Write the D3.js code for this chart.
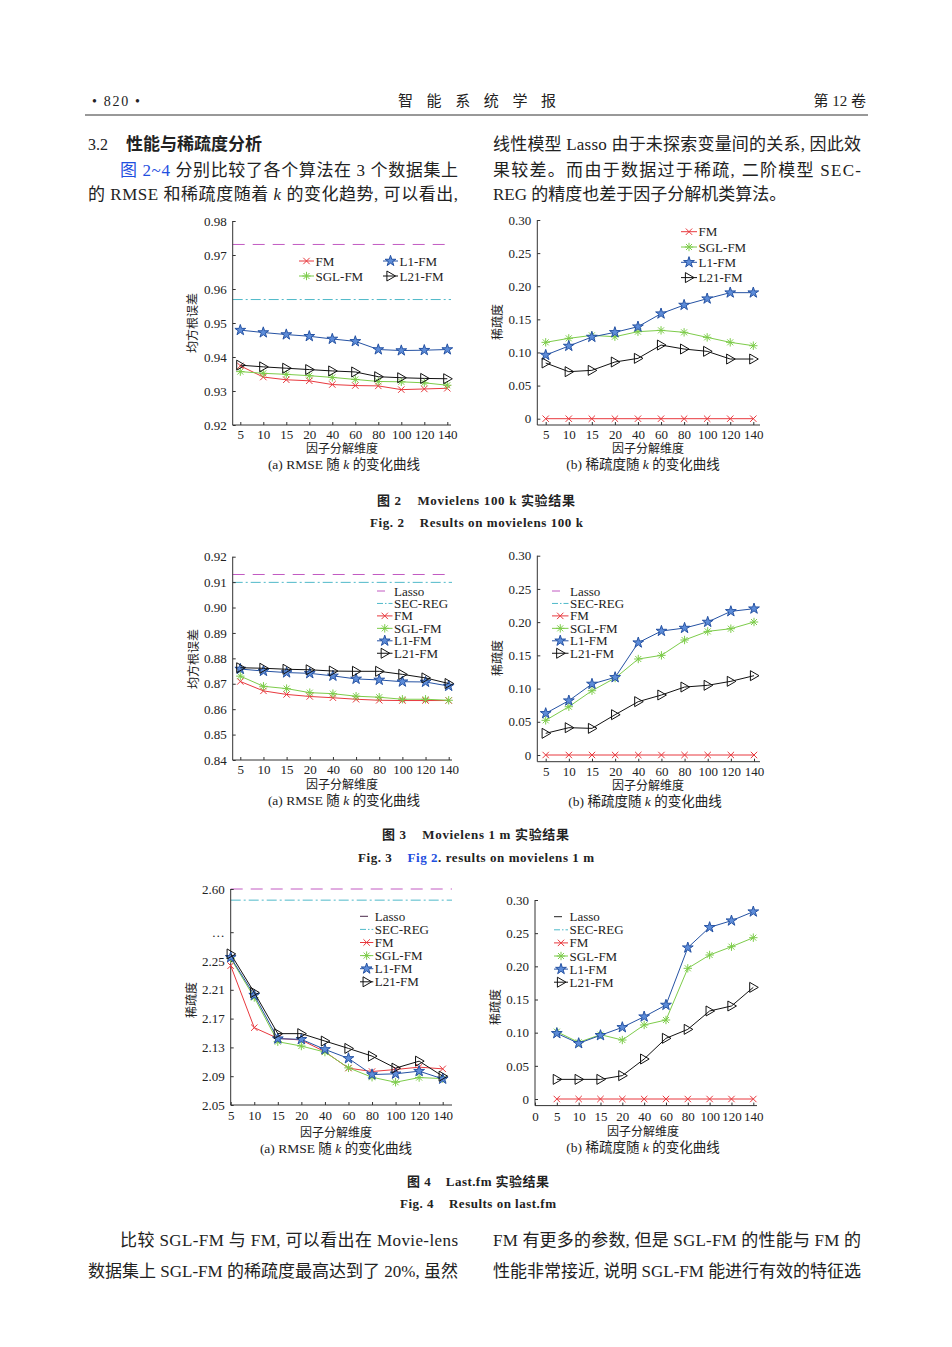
<!DOCTYPE html>
<html>
<head>
<meta charset="utf-8">
<script src="https://cdn.jsdelivr.net/npm/d3@7"></script>
<style>
  html, body { margin: 0; padding: 0; background: #fff; }
  svg { display: block; }
  text { font-family: 'Liberation Serif', 'Times New Roman', 'Noto Sans CJK SC', serif; fill: #222; }
</style>
</head>
<body>
<svg id="svg" width="952" height="1347"></svg>
<script>
// ---- data ----
const kLabels = ['5', '10', '15', '20', '40', '60', '80', '100', '120', '140'];
const kLabelsZero = ['0', '5', '10', '15', '20', '40', '60', '80', '100', '120', '140'];

// Fig 2 Movielens 100 k
const ml100kRmseFM = [0.9374, 0.9341, 0.9333, 0.9330, 0.9319, 0.9316, 0.9315, 0.9304, 0.9306, 0.9308];
const ml100kRmseSGL = [0.9357, 0.9352, 0.9349, 0.9345, 0.9340, 0.9334, 0.9328, 0.9327, 0.9324, 0.9317];
const ml100kRmseL1 = [0.9479, 0.9472, 0.9466, 0.9461, 0.9453, 0.9446, 0.9422, 0.9419, 0.9420, 0.9422];
const ml100kRmseL21 = [0.9376, 0.9371, 0.9367, 0.9363, 0.9359, 0.9356, 0.9342, 0.9339, 0.9337, 0.9336];
const ml100kRmseLasso = 0.9731;
const ml100kRmseSecReg = 0.9569;
const ml100kSpFM = [0, 0, 0, 0, 0, 0, 0, 0, 0, 0];
const ml100kSpSGL = [0.1153, 0.1213, 0.1258, 0.1238, 0.1314, 0.1334, 0.1304, 0.1228, 0.1153, 0.1102];
const ml100kSpL1 = [0.0961, 0.1097, 0.1233, 0.1304, 0.1389, 0.1586, 0.1716, 0.1812, 0.1903, 0.1903];
const ml100kSpL21 = [0.0841, 0.0710, 0.0730, 0.0856, 0.0911, 0.1112, 0.1052, 0.1017, 0.0901, 0.0901];

// Fig 3 Movielens 1 m
const ml1mRmseFM = [0.8709, 0.8672, 0.8658, 0.8650, 0.8645, 0.8639, 0.8635, 0.8634, 0.8634, 0.8634];
const ml1mRmseSGL = [0.8730, 0.8690, 0.8681, 0.8665, 0.8661, 0.8651, 0.8647, 0.8639, 0.8639, 0.8635];
const ml1mRmseL1 = [0.8758, 0.8750, 0.8744, 0.8741, 0.8731, 0.8719, 0.8715, 0.8708, 0.8707, 0.8691];
const ml1mRmseL21 = [0.8763, 0.8761, 0.8757, 0.8755, 0.8750, 0.8749, 0.8749, 0.8737, 0.8723, 0.8701];
const ml1mRmseLasso = 0.9130;
const ml1mRmseSecReg = 0.9099;
const ml1mSpFM = [0, 0, 0, 0, 0, 0, 0, 0, 0, 0];
const ml1mSpSGL = [0.0522, 0.0727, 0.0968, 0.1159, 0.1445, 0.1500, 0.1731, 0.1861, 0.1901, 0.2002];
const ml1mSpL1 = [0.0627, 0.0818, 0.1069, 0.1169, 0.1691, 0.1866, 0.1911, 0.2002, 0.2162, 0.2202];
const ml1mSpL21 = [0.0326, 0.0411, 0.0401, 0.0607, 0.0803, 0.0903, 0.1023, 0.1049, 0.1109, 0.1194];

// Fig 4 Last.fm
const lastfmRmseFM = [2.2435, 2.1574, 2.1426, 2.1402, 2.1240, 2.1012, 2.0965, 2.0993, 2.1026, 2.1002];
const lastfmRmseSGL = [2.2537, 2.1993, 2.1379, 2.1319, 2.1235, 2.1016, 2.0886, 2.0816, 2.0881, 2.0867];
const lastfmRmseL1 = [2.2551, 2.2026, 2.1421, 2.1412, 2.1272, 2.1147, 2.0923, 2.0933, 2.0970, 2.0863];
const lastfmRmseL21 = [2.2598, 2.2063, 2.1491, 2.1491, 2.1388, 2.1286, 2.1179, 2.1012, 2.1109, 2.0900];
const lastfmRmseLasso = 2.60;
const lastfmRmseSecReg = 2.52;
const lastfmSpFM = [0, 0, 0, 0, 0, 0, 0, 0, 0, 0];
const lastfmSpSGL = [0.1015, 0.0854, 0.0970, 0.0889, 0.1116, 0.1191, 0.1970, 0.2171, 0.2296, 0.2432];
const lastfmSpL1 = [0.0990, 0.0839, 0.0960, 0.1080, 0.1241, 0.1417, 0.2281, 0.2588, 0.2688, 0.2824];
const lastfmSpL21 = [0.0296, 0.0296, 0.0296, 0.0352, 0.0603, 0.0915, 0.1050, 0.1327, 0.1402, 0.1683];

// tick values
const rmse100kTicks = [0.92, 0.93, 0.94, 0.95, 0.96, 0.97, 0.98];
const rmse1mTicks = [0.84, 0.85, 0.86, 0.87, 0.88, 0.89, 0.90, 0.91, 0.92];
const rmseLastfmTicks = [2.05, 2.09, 2.13, 2.17, 2.21, 2.25, 2.29, 2.60];
const sparsityTicks = [0, 0.05, 0.10, 0.15, 0.20, 0.25, 0.30];

// ---- styles ----
const C = {
    FM: '#e8393e', SGL: '#7dcc4a', L1: '#2552a3', L1fill: '#5d8cd8', L21: '#111',
    lasso: '#c25ac2', secreg: '#4fb9c9', blue: '#1f4fe0'
};
const FONT_CJK_BOLD = "'Liberation Serif', 'Noto Sans CJK SC', sans-serif";

let svg = d3.select('#svg');
svg.append('rect').attr('width', 952).attr('height', 1347).attr('fill', '#fff');

function markerPath(type) {
    if (type === 'x') return 'M-3.2,-3.2L3.2,3.2M-3.2,3.2L3.2,-3.2';
    if (type === 'ast') return 'M-4.2,0L4.2,0M0,-4.2L0,4.2M-3,-3L3,3M-3,3L3,-3';
    if (type === 'star') return d3.symbol(d3.symbolStar, 36)();
    if (type === 'tri') return 'M-3.6,-5L5,0L-3.6,5Z';
    return '';
}

function drawMarker(g, type, color, cx, cy) {
    let p = g.append('path').attr('d', markerPath(type))
        .attr('transform', `translate(${cx},${cy})`)
        .attr('stroke', color).attr('stroke-width', 1);
    if (type === 'star') p.attr('fill', C.L1fill).attr('stroke-width', 1);
    else p.attr('fill', 'none');
}

const styles = {
    'FM': { color: C.FM, marker: 'x' },
    'SGL-FM': { color: C.SGL, marker: 'ast' },
    'L1-FM': { color: C.L1, marker: 'star' },
    'L21-FM': { color: C.L21, marker: 'tri' },
};

function drawPanel(p) {
    let g = svg.append('g');
    let x = d3.scaleLinear().domain(p.xDomain).range(p.xRange);
    let y = d3.scaleLinear().domain(p.yDomain).range(p.yRange);

    (p.hlines || []).forEach(h => {
        g.append('line')
            .attr('x1', p.axisX).attr('x2', p.axisRight)
            .attr('y1', y(h.value)).attr('y2', y(h.value))
            .attr('stroke', h.color).attr('stroke-width', 1)
            .attr('stroke-dasharray', h.dash);
    });

    // axes
    let yAxis = d3.axisLeft(y).tickValues(p.yTicks).tickFormat(p.yFormat)
        .tickSizeInner(-3).tickSizeOuter(0).tickPadding(6);
    let ya = g.append('g').attr('transform', `translate(${p.axisX},0)`).call(yAxis);
    let xIdx = d3.range(p.xDomain[0] === -1 ? -1 : 0, 10);
    let xAxis = d3.axisBottom(x).tickValues(xIdx)
        .tickFormat(i => p.xLabels[i - xIdx[0]])
        .tickSizeInner(-3).tickSizeOuter(0).tickPadding(p.xPad || 5);
    let xa = g.append('g').attr('transform', `translate(0,${p.yBottom})`).call(xAxis);
    [ya, xa].forEach(a => {
        a.select('.domain').remove();
        a.selectAll('line').attr('stroke', '#333');
        a.selectAll('text').attr('font-size', 13).attr('fill', '#222')
            .style('font-family', "'Liberation Serif', serif");
    });
    g.append('path')
        .attr('d', `M${p.axisX},${p.yTop}V${p.yBottom}H${p.axisRight}`)
        .attr('fill', 'none').attr('stroke', '#333').attr('stroke-width', 1);

    // series
    let line = d3.line().x((d, i) => x(i)).y(d => y(d));
    p.series.forEach(s => {
        let st = styles[s.name];
        g.append('path').datum(s.values).attr('d', line)
            .attr('fill', 'none').attr('stroke', st.color).attr('stroke-width', 1);
        s.values.forEach((v, i) => drawMarker(g, st.marker, st.color, x(i), y(v)));
    });

    // legend
    let lg = p.legend;
    lg.items.forEach((name, i) => {
        let col = i % lg.cols, row = Math.floor(i / lg.cols);
        let lx = lg.x[col], ly = lg.y + row * lg.dy;
        if (name === 'Lasso') {
            g.append('line').attr('x1', lx).attr('x2', lx + 8).attr('y1', ly).attr('y2', ly)
                .attr('stroke', lg.lassoColor || C.lasso);
        } else if (name === 'SEC-REG') {
            g.append('line').attr('x1', lx).attr('x2', lx + lg.len).attr('y1', ly).attr('y2', ly)
                .attr('stroke', C.secreg).attr('stroke-dasharray', '6,2,1.5,2');
        } else {
            let st = styles[name];
            g.append('line').attr('x1', lx).attr('x2', lx + lg.len).attr('y1', ly).attr('y2', ly)
                .attr('stroke', st.color);
            drawMarker(g, st.marker, st.color, lx + lg.len / 2, ly);
        }
        g.append('text').attr('x', lx + lg.len + 1.5).attr('y', ly)
            .attr('dominant-baseline', 'central').attr('font-size', 13).text(name);
    });

    // labels
    g.append('text').attr('transform', `translate(${p.ylab[0]},${p.ylab[1]}) rotate(-90)`)
        .attr('text-anchor', 'middle').attr('dominant-baseline', 'central')
        .attr('font-size', 12).text(p.ylabText);
    g.append('text').attr('x', p.xlab[0]).attr('y', p.xlab[1])
        .attr('text-anchor', 'middle').attr('dominant-baseline', 'central')
        .attr('font-size', 12).text('因子分解维度');
    let cap = g.append('text').attr('x', p.cap[0]).attr('y', p.cap[1])
        .attr('text-anchor', 'middle').attr('dominant-baseline', 'central').attr('font-size', 13.5);
    cap.append('tspan').text(p.capText[0]);
    cap.append('tspan').attr('font-style', 'italic').text('k');
    cap.append('tspan').text(p.capText[1]);
}

const fmtRmse = d => d.toFixed(2);
const fmtSp = d => d === 0 ? '0' : d.toFixed(2);
const fmtLastfm = d => d === 2.29 ? '…' : d.toFixed(2);
const capA = ['(a) RMSE 随 ', ' 的变化曲线'];
const capB = ['(b) 稀疏度随 ', ' 的变化曲线'];
const legend6 = ['Lasso', 'SEC-REG', 'FM', 'SGL-FM', 'L1-FM', 'L21-FM'];

// Fig 2 (a)
drawPanel({
    axisX: 232.7, axisRight: 451, yTop: 221, yBottom: 425,
    xDomain: [0, 9], xRange: [240.3, 447.3], xLabels: kLabels,
    yDomain: [0.92, 0.98], yRange: [425, 221], yTicks: rmse100kTicks, yFormat: fmtRmse,
    hlines: [{ value: ml100kRmseLasso, color: C.lasso, dash: '12,8' },
             { value: ml100kRmseSecReg, color: C.secreg, dash: '10,3,2,3' }],
    series: [{ name: 'FM', values: ml100kRmseFM }, { name: 'SGL-FM', values: ml100kRmseSGL },
             { name: 'L1-FM', values: ml100kRmseL1 }, { name: 'L21-FM', values: ml100kRmseL21 }],
    legend: { items: ['FM', 'L1-FM', 'SGL-FM', 'L21-FM'], cols: 2, x: [299, 383], y: 261, dy: 15, len: 15 },
    ylab: [193, 323], ylabText: '均方根误差', xlab: [342, 448.5], cap: [344, 463.5], capText: capA
});
// Fig 2 (b)
drawPanel({
    axisX: 537.3, axisRight: 760, yTop: 220, yBottom: 425,
    xDomain: [0, 9], xRange: [545.7, 753.3], xLabels: kLabels,
    yDomain: [0, 0.3], yRange: [418.7, 220], yTicks: sparsityTicks, yFormat: fmtSp,
    series: [{ name: 'FM', values: ml100kSpFM }, { name: 'SGL-FM', values: ml100kSpSGL },
             { name: 'L1-FM', values: ml100kSpL1 }, { name: 'L21-FM', values: ml100kSpL21 }],
    legend: { items: ['FM', 'SGL-FM', 'L1-FM', 'L21-FM'], cols: 1, x: [681], y: 231.7, dy: 15.3, len: 16 },
    ylab: [498, 322], ylabText: '稀疏度', xlab: [648, 448.5], cap: [643, 463.5], capText: capB
});
// Fig 3 (a)
drawPanel({
    axisX: 232.7, axisRight: 452, yTop: 556.7, yBottom: 760,
    xDomain: [0, 9], xRange: [240.3, 448.7], xLabels: kLabels,
    yDomain: [0.84, 0.92], yRange: [760, 556.7], yTicks: rmse1mTicks, yFormat: fmtRmse,
    hlines: [{ value: ml1mRmseLasso, color: C.lasso, dash: '12,8' },
             { value: ml1mRmseSecReg, color: C.secreg, dash: '10,3,2,3' }],
    series: [{ name: 'FM', values: ml1mRmseFM }, { name: 'SGL-FM', values: ml1mRmseSGL },
             { name: 'L1-FM', values: ml1mRmseL1 }, { name: 'L21-FM', values: ml1mRmseL21 }],
    legend: { items: legend6, cols: 1, x: [377], y: 591, dy: 12.45, len: 15.5 },
    ylab: [194, 659], ylabText: '均方根误差', xlab: [342, 785], cap: [344, 800], capText: capA
});
// Fig 3 (b)
drawPanel({
    axisX: 537.3, axisRight: 760, yTop: 555.7, yBottom: 761.7,
    xDomain: [0, 9], xRange: [545.7, 754], xLabels: kLabels,
    yDomain: [0, 0.3], yRange: [755, 555.7], yTicks: sparsityTicks, yFormat: fmtSp,
    series: [{ name: 'FM', values: ml1mSpFM }, { name: 'SGL-FM', values: ml1mSpSGL },
             { name: 'L1-FM', values: ml1mSpL1 }, { name: 'L21-FM', values: ml1mSpL21 }],
    legend: { items: legend6, cols: 1, x: [552], y: 591, dy: 12.45, len: 16.5 },
    ylab: [498, 658], ylabText: '稀疏度', xlab: [648, 786], cap: [645, 800.5], capText: capB
});
// Fig 4 (a)
drawPanel({
    axisX: 230.7, axisRight: 452, yTop: 889, yBottom: 1105,
    xDomain: [0, 9], xRange: [230.7, 442.7], xLabels: kLabels, xPad: 6,
    yDomain: [2.05, 2.29, 2.60], yRange: [1105, 932.2, 889], yTicks: rmseLastfmTicks, yFormat: fmtLastfm,
    hlines: [{ value: lastfmRmseLasso, color: C.lasso, dash: '12,8' },
             { value: lastfmRmseSecReg, color: C.secreg, dash: '10,3,2,3' }],
    series: [{ name: 'FM', values: lastfmRmseFM }, { name: 'SGL-FM', values: lastfmRmseSGL },
             { name: 'L1-FM', values: lastfmRmseL1 }, { name: 'L21-FM', values: lastfmRmseL21 }],
    legend: { items: legend6, cols: 1, x: [360], y: 916.3, dy: 13.1, len: 13.3, lassoColor: '#4a2a4a' },
    ylab: [192, 1000], ylabText: '稀疏度', xlab: [336, 1132.5], cap: [336, 1147.5], capText: capA
});
// Fig 4 (b)
drawPanel({
    axisX: 535, axisRight: 757, yTop: 900, yBottom: 1105.6,
    xDomain: [-1, 9], xRange: [535, 753.3], xLabels: kLabelsZero, xPad: 6,
    yDomain: [0, 0.3], yRange: [1099, 900], yTicks: sparsityTicks, yFormat: fmtSp,
    series: [{ name: 'FM', values: lastfmSpFM }, { name: 'SGL-FM', values: lastfmSpSGL },
             { name: 'L1-FM', values: lastfmSpL1 }, { name: 'L21-FM', values: lastfmSpL21 }],
    legend: { items: legend6, cols: 1, x: [554], y: 916.7, dy: 13.1, len: 14, lassoColor: '#222' },
    ylab: [496, 1007], ylabText: '稀疏度', xlab: [643, 1132], cap: [643, 1147], capText: capB
});

// ---- page text ----
function textLine(x, y, parts, opt) {
    opt = opt || {};
    let t = svg.append('text').attr('x', x).attr('y', y)
        .attr('dominant-baseline', 'central')
        .attr('font-size', opt.size || 17)
        .attr('text-anchor', opt.anchor || 'start')
        .style('white-space', 'pre');
    if (opt.bold) t.attr('font-weight', 'bold').style('font-family', FONT_CJK_BOLD);
    if (opt.width) t.attr('textLength', opt.width).attr('lengthAdjust', 'spacing');
    parts.forEach(pt => {
        if (typeof pt === 'string') pt = { t: pt };
        let s = t.append('tspan').text(pt.t);
        if (pt.fill) s.style('fill', pt.fill);
        if (pt.italic) s.attr('font-style', 'italic');
    });
    return t;
}

// header
textLine(92, 101, ['• 820 •'], { size: 14, width: 48 });
textLine(398, 101, ['智 能 系 统 学 报'], { size: 15, width: 158 });
textLine(866, 101, ['第 12 卷'], { size: 15, anchor: 'end' });
svg.append('line').attr('x1', 85).attr('x2', 868).attr('y1', 115).attr('y2', 115)
    .attr('stroke', '#333').attr('stroke-width', 1);

// top paragraphs
textLine(88, 144, ['3.2'], { size: 16 });
textLine(126, 144, ['性能与稀疏度分析'], { size: 17, bold: true, width: 136 });
textLine(120, 170, [{ t: '图 2~4', fill: C.blue }, ' 分别比较了各个算法在 3 个数据集上'], { width: 338 });
textLine(88, 194, ['的 RMSE 和稀疏度随着 ', { t: 'k', italic: true }, ' 的变化趋势, 可以看出,'], { width: 370 });
textLine(493, 144, ['线性模型 Lasso 由于未探索变量间的关系, 因此效'], { width: 368 });
textLine(493, 170, ['果较差。而由于数据过于稀疏, 二阶模型 SEC-'], { width: 368 });
textLine(493, 194, ['REG 的精度也差于因子分解机类算法。'], {});

// figure captions
textLine(377, 500, ['图 2    Movielens 100 k 实验结果'], { size: 13, bold: true, width: 198 });
textLine(370, 522, ['Fig. 2    Results on movielens 100 k'], { size: 13, bold: true, width: 213 });
textLine(382, 834, ['图 3    Movielens 1 m 实验结果'], { size: 13, bold: true, width: 187 });
textLine(358, 857, ['Fig. 3    ', { t: 'Fig 2', fill: C.blue }, '. results on movielens 1 m'], { size: 13, bold: true, width: 236 });
textLine(407, 1181, ['图 4    Last.fm 实验结果'], { size: 13, bold: true, width: 142 });
textLine(400, 1203, ['Fig. 4    Results on last.fm'], { size: 13, bold: true, width: 156 });

// bottom paragraphs
textLine(120, 1240, ['比较 SGL-FM 与 FM, 可以看出在 Movie-lens'], { width: 338 });
textLine(88, 1271, ['数据集上 SGL-FM 的稀疏度最高达到了 20%, 虽然'], { width: 370 });
textLine(493, 1240, ['FM 有更多的参数, 但是 SGL-FM 的性能与 FM 的'], { width: 368 });
textLine(493, 1271, ['性能非常接近, 说明 SGL-FM 能进行有效的特征选'], { width: 368 });
</script>
</body>
</html>
